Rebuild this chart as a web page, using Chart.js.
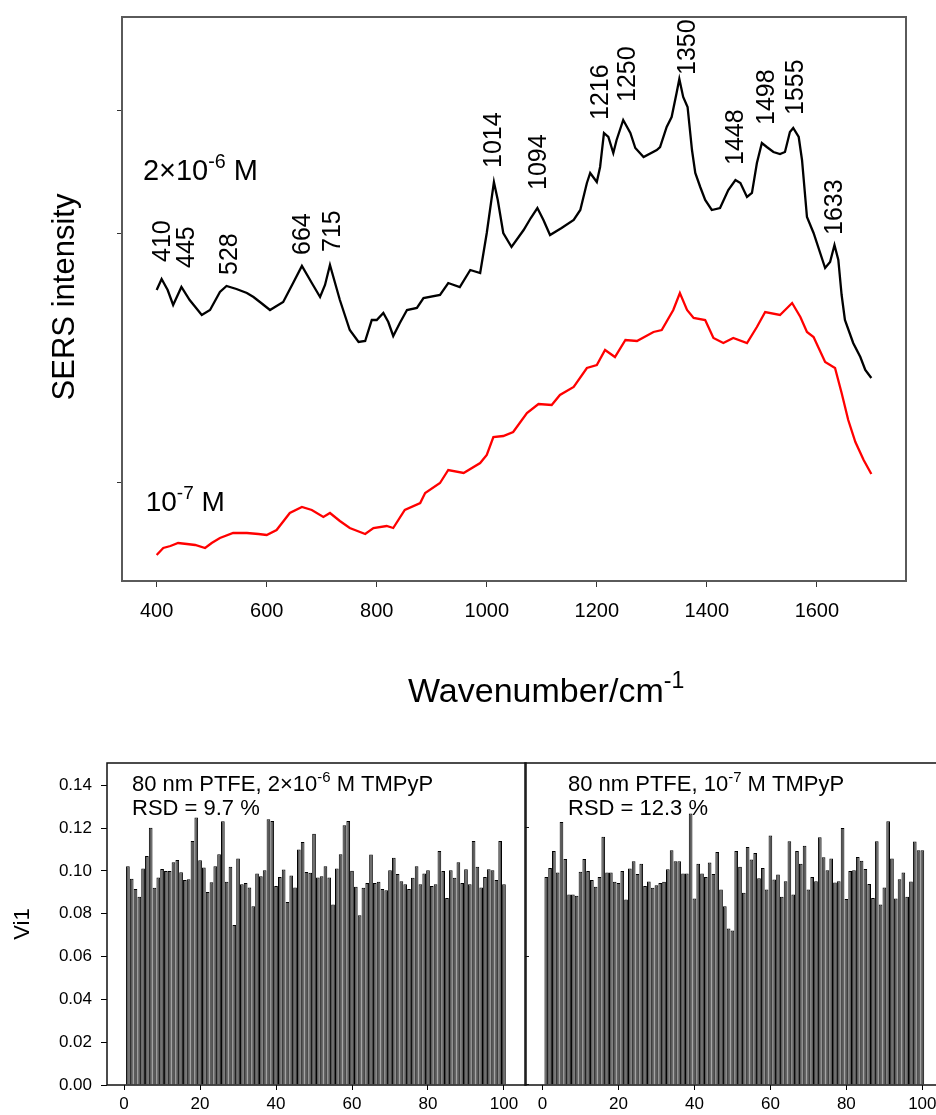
<!DOCTYPE html>
<html>
<head>
<meta charset="utf-8">
<script src="https://cdn.jsdelivr.net/npm/chart.js@4.4.1/dist/chart.umd.min.js"></script>
<style>
  html, body { margin: 0; padding: 0; background: #fff; }
  body { width: 936px; height: 1115px; position: relative; overflow: hidden; }
  canvas { position: absolute; }
</style>
</head>
<body>
<canvas id="spec" width="936" height="740" style="left:0;top:0;width:936px;height:740px"></canvas>
<canvas id="barsA" width="530" height="375" style="left:0;top:740px;width:530px;height:375px"></canvas>
<canvas id="barsB" width="430" height="375" style="left:520px;top:740px;width:430px;height:375px"></canvas>
<script>
// spectra (wavenumber / SERS intensity, arbitrary units)
const blackWn = [400,409,420,430,445,460,482,497,515,527,545,564,576,590,606,630,648,664,682,697,
  706,715,733,751,767,779,791,800,812,821,830,842,855,873,885,915,930,951,970,988,
  1000,1013,1020,1030,1045,1067,1080,1092,1103,1115,1136,1158,1170,1182,1188,1200,1206,1213,1221,1230,
  1236,1248,1261,1270,1285,1309,1315,1327,1336,1345,1350,1357,1365,1373,1379,1388,1397,1409,1424,1439,
  1452,1461,1473,1482,1491,1500,1509,1521,1533,1542,1551,1557,1567,1573,1582,1594,1615,1624,1632,1639,
  1645,1651,1666,1679,1688,1699];
const blackInt = [291,302,291,276,294,281,266,271,289,295,292,288,284,278,271,279,298,315,298,284,
  296,316,281,251,239,240,261,261,268,259,245,258,271,273,283,286,298,294,311,308,
  348,399,381,348,334,351,363,373,361,346,353,361,371,398,408,399,414,448,444,428,
  441,461,448,433,424,431,434,454,464,488,502,484,474,431,408,394,381,371,373,391,
  401,398,384,388,418,438,434,429,427,429,449,453,444,421,364,348,313,319,336,321,
  286,261,238,224,211,203];
const redWn = [400,412,425,439,455,470,488,500,515,539,564,585,600,618,642,664,682,703,715,733,
  751,779,794,818,830,851,879,888,915,930,958,988,1000,1012,1030,1048,1073,1094,1118,1133,
  1158,1182,1200,1215,1233,1252,1273,1303,1318,1339,1351,1364,1376,1397,1412,1430,1448,1473,1491,1506,
  1533,1555,1570,1582,1594,1615,1633,1645,1657,1670,1685,1699];
const redInt = [26,33,35,38,37,36,33,38,43,48,48,47,46,51,68,74,71,64,68,60,
  53,47,53,55,53,71,78,88,98,111,108,118,126,144,145,149,168,177,176,186,
  194,213,216,231,224,241,240,249,251,271,288,271,263,261,243,238,243,238,254,269,
  266,278,264,249,244,219,213,188,161,139,121,107];
const peakLabels = [410,445,528,664,715,1014,1094,1216,1250,1350,1448,1498,1555,1633];
const specXTicks = [400,600,800,1000,1200,1400,1600];
const specYTicks = [99,347,471];

// Vi1 per spectrum, 100 spectra each
const sampleNo = Array.from({length: 100}, (_, i) => i + 1);
const vi1High = [0.1022,0.0963,0.0915,0.0879,0.1011,0.107,0.1202,0.0921,0.0969,0.1009,
  0.0999,0.0999,0.1041,0.1051,0.0994,0.0957,0.0961,0.114,0.1249,0.105,
  0.1016,0.0902,0.0947,0.1022,0.1078,0.1232,0.0949,0.1019,0.0747,0.1058,
  0.0938,0.0944,0.0922,0.0835,0.0988,0.0975,0.1003,0.1241,0.1233,0.0929,
  0.0972,0.1006,0.0855,0.0979,0.0922,0.11,0.1135,0.0995,0.0991,0.1174,
  0.0969,0.0975,0.1022,0.0969,0.0843,0.1011,0.1078,0.1213,0.1233,0.1001,
  0.0926,0.0793,0.0921,0.0944,0.1077,0.0944,0.0949,0.0916,0.091,0.1003,
  0.1062,0.0985,0.0952,0.0938,0.0915,0.0968,0.1022,0.0938,0.0988,0.1003,
  0.0929,0.0938,0.1093,0.0999,0.0874,0.1003,0.0968,0.1041,0.0944,0.1008,
  0.0938,0.114,0.1019,0.0922,0.0972,0.1008,0.1003,0.0957,0.114,0.0938];
const vi1Low = [0.0972,0.1014,0.1093,0.0992,0.1229,0.1056,0.089,0.089,0.0884,0.0996,
  0.1056,0.0999,0.0957,0.0926,0.0972,0.1159,0.0992,0.0992,0.0949,0.0944,
  0.0999,0.0867,0.1011,0.1045,0.0985,0.1034,0.093,0.095,0.0921,0.0933,
  0.0944,0.0949,0.1008,0.1096,0.1045,0.1045,0.0988,0.0988,0.1268,0.0871,
  0.1034,0.0988,0.0972,0.1039,0.0985,0.1088,0.0913,0.0835,0.0731,0.0722,
  0.1093,0.1019,0.0898,0.1112,0.1053,0.1084,0.0966,0.1014,0.0913,0.1165,
  0.096,0.0983,0.0879,0.0952,0.1139,0.089,0.1093,0.1034,0.1118,0.0913,
  0.0972,0.0952,0.1157,0.1064,0.1003,0.1058,0.0946,0.0952,0.12,0.0869,
  0.0999,0.1003,0.1065,0.1047,0.1009,0.0939,0.0874,0.1139,0.0843,0.0922,
  0.1232,0.1058,0.0871,0.0961,0.0992,0.0879,0.095,0.1137,0.1096,0.1096];
const barXTicks = [0,20,40,60,80,100];
const barYTicks = [0,0.02,0.04,0.06,0.08,0.10,0.12,0.14];
const barYTicksInner = [0,0.06,0.12];

// label nudges [dx px, gap above peak px]
const peakNudge = [[1,17],[6,19],[3,11],[1,11],[3,13],[0,14],[1,18],[-4,13],[4,18],[9,4],[3,15],[6,18],[4,13],[0,10]];

const FONT = "'Liberation Sans', Arial, sans-serif";
Chart.defaults.font.family = FONT;
Chart.defaults.color = '#000';

// text with superscripts: parts = [[text, isSup], ...]
function drawRich(ctx, parts, x, y, size) {
  ctx.save();
  ctx.fillStyle = '#000';
  ctx.textAlign = 'left';
  ctx.textBaseline = 'alphabetic';
  let cx = x;
  parts.forEach(([t, sup]) => {
    const s = sup ? size * 0.68 : size;
    ctx.font = s + 'px ' + FONT;
    ctx.fillText(t, cx, sup ? y - size * 0.42 : y);
    cx += ctx.measureText(t).width;
  });
  ctx.restore();
}

function drawRotated(ctx, text, x, y, size, align) {
  ctx.save();
  ctx.translate(x, y);
  ctx.rotate(-Math.PI / 2);
  ctx.font = size + 'px ' + FONT;
  ctx.fillStyle = '#000';
  ctx.textAlign = align;
  ctx.textBaseline = 'middle';
  ctx.fillText(text, 0, 0);
  ctx.restore();
}

// top chart: frame, peak labels, titles
const specDecor = {
  id: 'specDecor',
  afterDraw(chart) {
    const {ctx, chartArea: a, scales: {x, y}} = chart;
    ctx.save();
    ctx.strokeStyle = '#5a5a5a';
    ctx.lineWidth = 2;
    ctx.strokeRect(a.left, a.top, a.right - a.left, a.bottom - a.top);
    ctx.restore();

    peakLabels.forEach((wn, i) => {
      let top = -Infinity;
      blackWn.forEach((w, j) => { if (Math.abs(w - wn) <= 8) top = Math.max(top, blackInt[j]); });
      const px = x.getPixelForValue(wn) + peakNudge[i][0];
      const py = y.getPixelForValue(top) - peakNudge[i][1];
      drawRotated(ctx, String(wn), px, py, 25, 'left');
    });

    drawRich(ctx, [['2×10'], ['-6', true], [' M']], x.getPixelForValue(375), y.getPixelForValue(401), 29);
    drawRich(ctx, [['10'], ['-7', true], [' M']], x.getPixelForValue(380), y.getPixelForValue(70), 28);

    drawRotated(ctx, 'SERS intensity', a.left - 57, (a.top + a.bottom) / 2 - 2, 31, 'center');
    drawRich(ctx, [['Wavenumber/cm'], ['-1', true]], a.left + 286, a.bottom + 121, 34);
  }
};

new Chart(document.getElementById('spec'), {
  type: 'line',
  data: {
    datasets: [
      { label: '2×10-6 M', data: blackWn.map((w, i) => ({x: w, y: blackInt[i]})),
        borderColor: '#000', borderWidth: 2.3, pointRadius: 0, tension: 0 },
      { label: '10-7 M', data: redWn.map((w, i) => ({x: w, y: redInt[i]})),
        borderColor: '#ff0000', borderWidth: 2.3, pointRadius: 0, tension: 0 }
    ]
  },
  options: {
    responsive: false,
    animation: false,
    layout: { padding: { top: 17, right: 30, left: 0, bottom: 0 } },
    plugins: { legend: { display: false }, tooltip: { enabled: false } },
    scales: {
      x: {
        type: 'linear', min: 337, max: 1762,
        afterBuildTicks: s => { s.ticks = specXTicks.map(v => ({value: v})); },
        afterFit: s => { s.height = 159; },
        grid: { drawOnChartArea: false, tickLength: 6, color: '#333' },
        border: { display: false },
        ticks: { font: { size: 20 }, color: '#000', padding: 12, callback: v => String(v) }
      },
      y: {
        min: 0, max: 564,
        afterBuildTicks: s => { s.ticks = specYTicks.map(v => ({value: v})); },
        afterFit: s => { s.width = 122; },
        grid: { drawOnChartArea: false, tickLength: 5, color: '#333' },
        border: { display: false },
        ticks: { display: false }
      }
    }
  },
  plugins: [specDecor]
});

// bottom panels
function barPanel(id, values, cfg) {
  const decor = {
    id: 'barDecor',
    afterDraw(chart) {
      const {ctx, chartArea: a, scales: {y}} = chart;
      ctx.save();
      ctx.strokeStyle = '#111';
      ctx.lineWidth = 1.5;
      ctx.strokeRect(a.left, a.top, a.right - a.left, a.bottom - a.top);
      if (cfg.innerTicks) {
        ctx.lineWidth = 1;
        barYTicksInner.forEach(v => {
          const py = Math.round(y.getPixelForValue(v)) - 0.5;
          ctx.beginPath();
          ctx.moveTo(a.left, py);
          ctx.lineTo(a.left + 4, py);
          ctx.stroke();
        });
      }
      ctx.restore();
      drawRich(ctx, cfg.note, a.left + cfg.noteDx, a.top + 28, 22);
      drawRich(ctx, [[cfg.rsd]], a.left + cfg.noteDx, a.top + 52, 22);
      if (cfg.yTitle) drawRotated(ctx, cfg.yTitle, 23, (a.top + a.bottom) / 2, 22, 'center');
    }
  };
  return new Chart(document.getElementById(id), {
    type: 'bar',
    data: {
      datasets: [{
        data: sampleNo.map((n, i) => ({x: n, y: values[i]})),
        backgroundColor: '#5a5a5a', borderColor: '#000', borderWidth: 1,
        barPercentage: 0.97, categoryPercentage: 1
      }]
    },
    options: {
      responsive: false,
      animation: false,
      layout: { padding: { top: 23, right: cfg.padRight, left: 0, bottom: 0 } },
      plugins: { legend: { display: false }, tooltip: { enabled: false } },
      scales: {
        x: {
          type: 'linear', min: cfg.xMin, max: cfg.xMax, offset: false,
          afterBuildTicks: s => { s.ticks = barXTicks.map(v => ({value: v})); },
          afterFit: s => { s.height = 30; },
          grid: { drawOnChartArea: false, offset: false, tickLength: 5, color: '#000' },
          border: { display: false },
          ticks: { font: { size: 17 }, color: '#000', padding: 4, callback: v => String(v) }
        },
        y: {
          min: 0, max: 0.1504,
          afterBuildTicks: s => { s.ticks = barYTicks.map(v => ({value: v})); },
          afterFit: s => { s.width = cfg.yWidth; },
          grid: { drawOnChartArea: false, drawTicks: cfg.yLabels, tickLength: 6, color: '#000' },
          border: { display: false },
          ticks: { display: cfg.yLabels, font: { size: 17 }, color: '#000', padding: 9,
                   callback: v => v.toFixed(2) }
        }
      }
    },
    plugins: [decor]
  });
}

barPanel('barsA', vi1High, {
  xMin: -4.5, xMax: 105.8, yWidth: 107, padRight: 4, yLabels: true, innerTicks: false,
  note: [['80 nm PTFE, 2×10'], ['-6', true], [' M TMPyP']], rsd: 'RSD = 9.7 %', noteDx: 25, yTitle: 'Vi1'
});
barPanel('barsB', vi1Low, {
  xMin: -4.6, xMax: 105.7, yWidth: 5, padRight: 6, yLabels: false, innerTicks: true,
  note: [['80 nm PTFE, 10'], ['-7', true], [' M TMPyP']], rsd: 'RSD = 12.3 %', noteDx: 43, yTitle: null
});
</script>
</body>
</html>
